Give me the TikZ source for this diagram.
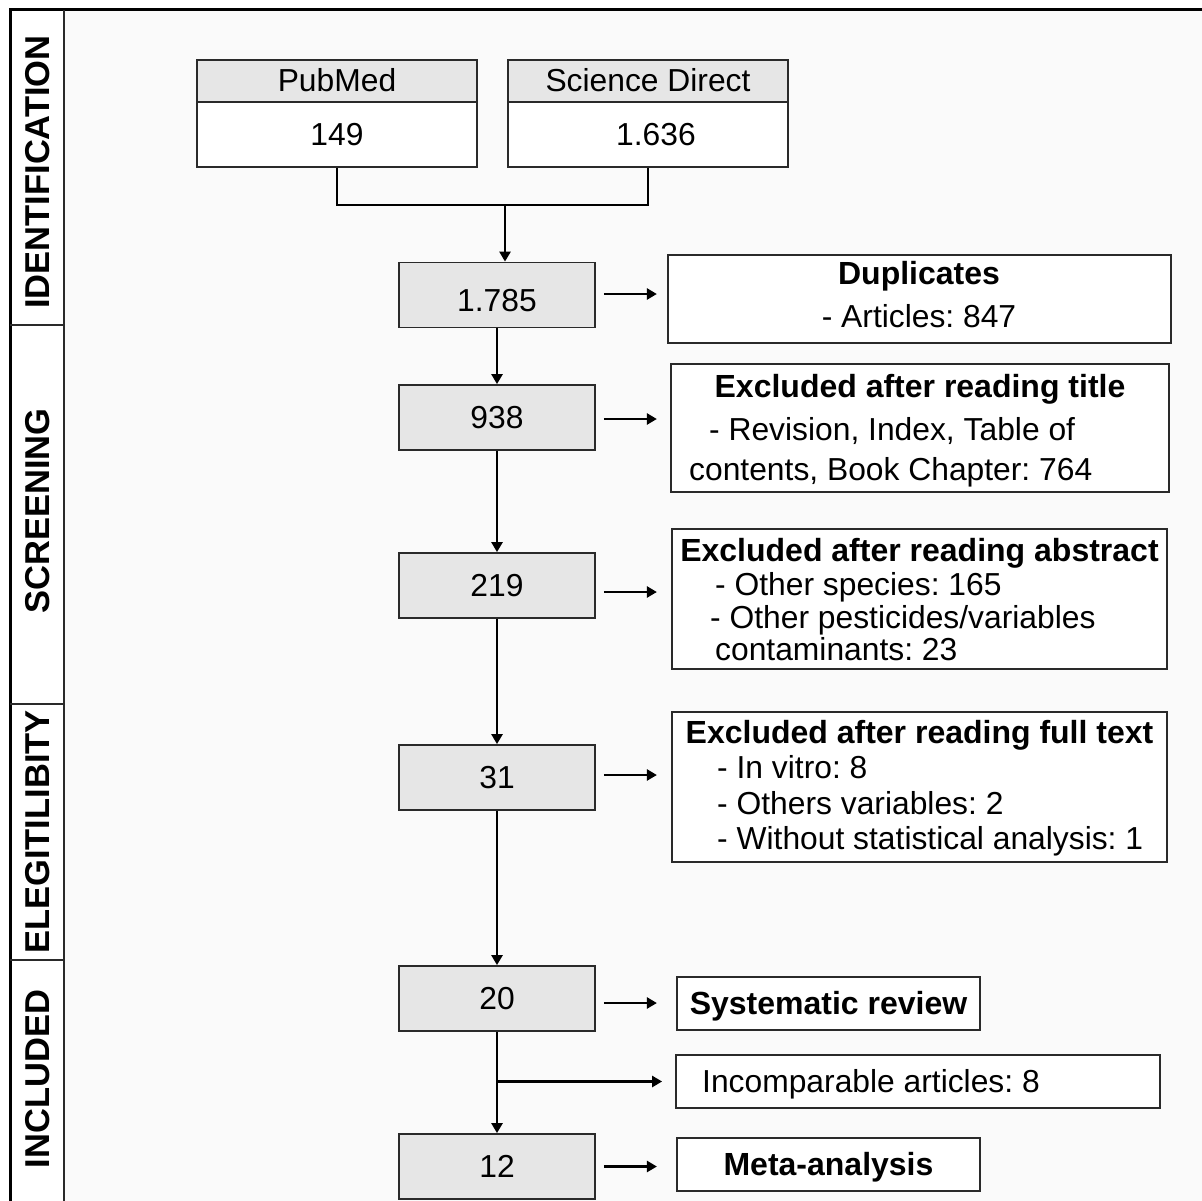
\documentclass[tikz,border=0pt]{standalone}
\usepackage{fontspec}
\setmainfont{Liberation Sans}
\usetikzlibrary{arrows.meta}
\definecolor{bgc}{HTML}{FAFAFA}
\definecolor{boxgrey}{HTML}{E6E6E6}
\definecolor{edgec}{HTML}{2A2A2A}
\newcommand\fsreg{\fontsize{31.8}{36}\selectfont\frenchspacing}
\newcommand\fsbold{\fontsize{32}{36}\selectfont\bfseries\frenchspacing}
\newcommand\fslab{\fontsize{34.5}{40}\selectfont\bfseries}
\begin{document}
\begin{tikzpicture}[x=1pt,y=-1pt,
  box/.style={draw=edgec, line width=1.8pt, inner sep=0pt},
  numbox/.style={box, fill=boxgrey, minimum width=196pt, minimum height=65pt, font=\fsreg, text height=22pt, text depth=0pt},
  txt/.style={inner sep=0pt, text height=22pt, text depth=0pt, font=\fsreg},
  btxt/.style={txt, font=\fsbold},
  lab/.style={inner sep=0pt, rotate=90, font=\fslab, text height=24pt, text depth=0pt},
  conn/.style={line width=2.8pt, black},
  arr/.style={conn, -{Triangle[length=10pt,width=11pt]}}
]
\useasboundingbox (0,0) rectangle (1202,1201);
\fill[white] (0,0) rectangle (1202,1201);
\fill[bgc] (64,10) rectangle (1202,1201);
\fill[white] (10,10) rectangle (64,1201);
% frame
\draw[line width=3pt, black] (10,1201) -- (10,10) -- (1202,10);
\draw[line width=2pt, edgec] (64,10) -- (64,1201);
\draw[line width=2pt, edgec] (10,325) -- (64,325);
\draw[line width=2pt, edgec] (10,704) -- (64,704);
\draw[line width=2pt, edgec] (10,960) -- (64,960);
\node[lab] (lid) at (37.5,172) {IDENTIFICATION};
\node[lab] (lsc) at (37.5,511) {SCREENING};
\node[lab] (lel) at (37.5,832) {ELEGITILIBITY};
\node[lab] (lin) at (37.5,1079) {INCLUDED};
% sources
\node[box, fill=boxgrey, minimum width=280pt, minimum height=42pt, txt] (pmh) at (337,81) {PubMed};
\node[box, fill=white, minimum width=280pt, minimum height=65pt, txt] (pmb) at (337,134.5) {149};
\node[box, fill=boxgrey, minimum width=280pt, minimum height=42pt, txt] (sdh) at (648,81) {Science Direct};
\node[box, fill=white, minimum width=280pt, minimum height=65pt, txt] (sdb) at (648,134.5) {\hspace{16pt}1.636};
% main boxes
\node[numbox] (n1785) at (497,295) {\raisebox{-5pt}{1.785}};
\node[numbox] (n938) at (497,417.5) {938};
\node[numbox] (n219) at (497,585.5) {219};
\node[numbox] (n31) at (497,777.5) {31};
\node[numbox] (n20) at (497,998.5) {20};
\node[numbox] (n12) at (497,1166.5) {12};
% right boxes
\node[box, fill=white, minimum width=503pt, minimum height=88pt] (dup) at (919.5,299) {};
\node[box, fill=white, minimum width=498pt, minimum height=128pt] (ttl) at (920,428) {};
\node[box, fill=white, minimum width=495pt, minimum height=140pt] (abs) at (919.5,599) {};
\node[box, fill=white, minimum width=495pt, minimum height=150pt] (full) at (919.5,787) {};
\node[box, fill=white, minimum width=303pt, minimum height=53pt, btxt] (sys) at (828.5,1003.5) {Systematic review};
\node[box, fill=white, minimum width=484pt, minimum height=53pt] (inc) at (918,1081.5) {};
\node[box, fill=white, minimum width=303pt, minimum height=53pt, btxt] (meta) at (828.5,1164.5) {Meta-analysis};
% texts
\node[btxt] (dupt) at (919,273) {Duplicates};
\node[txt] (dup1) at (919,316) {- Articles: 847};
\node[btxt] (ttlt) at (920,386) {Excluded after reading title};
\node[txt, anchor=west] (ttl1) at (709,429) {- Revision, Index, Table of};
\node[txt, anchor=west] (ttl2) at (689,469) {contents, Book Chapter: 764};
\node[btxt] (abst) at (919.5,550) {Excluded after reading abstract};
\node[txt, anchor=west] (abs1) at (715,584) {- Other species: 165};
\node[txt, anchor=west] (abs2) at (710,617) {- Other pesticides/variables};
\node[txt, anchor=west] (abs3) at (715,649) {contaminants: 23};
\node[btxt] (fullt) at (919.5,732) {Excluded after reading full text};
\node[txt, anchor=west] (full1) at (717,767) {- In vitro: 8};
\node[txt, anchor=west] (full2) at (717,803) {- Others variables: 2};
\node[txt, anchor=west] (full3) at (717,838) {- Without statistical analysis: 1};
\node[txt, anchor=west] (inct) at (702,1081) {Incomparable articles: 8};
% connectors
\coordinate (j) at (505,205);
\draw[conn] (pmb.south) |- (j) -| (sdb.south);
\draw[arr] (j) -- (j |- n1785.north);
\draw[arr] (n1785.south) -- (n938.north);
\draw[arr] (n938.south) -- (n219.north);
\draw[arr] (n219.south) -- (n31.north);
\draw[arr] (n31.south) -- (n20.north);
\draw[arr] (n20.south) -- (n12.north);
\draw[arr] (n20.south |- inc.west) -- ([xshift=-13pt]inc.west);
\draw[arr] ([xshift=8pt,yshift=1pt]n1785.east) -- ++(53,0);
\draw[arr] ([xshift=8pt,yshift=-1.5pt]n938.east) -- ++(53,0);
\draw[arr] ([xshift=8pt,yshift=-6.5pt]n219.east) -- ++(53,0);
\draw[arr] ([xshift=8pt,yshift=2.5pt]n31.east) -- ++(53,0);
\draw[arr] ([xshift=8pt,yshift=-4.5pt]n20.east) -- ++(53,0);
\draw[arr] ([xshift=8pt]n12.east) -- ++(53,0);
\end{tikzpicture}
\end{document}
